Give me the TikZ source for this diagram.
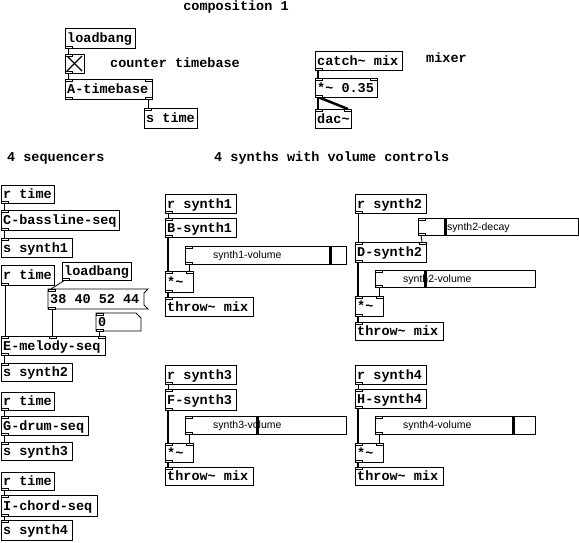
\documentclass[tikz,border=0pt]{standalone}
\usepackage{fontspec}
\newfontfamily\pdmono{Liberation Mono}
\newfontfamily\pdsans{Liberation Sans}

% object box: name, left, top, width, height, text
\newcommand\pdobj[6]{%
  \node[box, minimum width=#4pt, minimum height=#5pt] (#1) at (#2,#3) {};
  \node[txt] (#1-t) at ([xshift=2pt,yshift=-4.5pt]#1.west) {#6};}
% horizontal slider: name, left, top, width, height, knob x, label x, label
\newcommand\pdslider[8]{%
  \node[box, minimum width=#4pt, minimum height=#5pt] (#1) at (#2,#3) {};
  \node[lbl] (#1-l) at ([yshift=-3.5pt]#1.west -| #7,0) {#8};
  \fill (#6,#3) rectangle ++(3,#5);}
% inlets and outlets
\newcommand\pin[2]{\draw[port] ([xshift=#2pt]#1.north west) rectangle ++(7,2);}
\newcommand\pinr[1]{\draw[port] ([xshift=-7pt]#1.north east) rectangle ++(7,2);}
\newcommand\pout[2]{\draw[port] ([xshift=#2pt]#1.south west) rectangle ++(7,-2);}
\newcommand\poutr[1]{\draw[port] ([xshift=-7pt]#1.south east) rectangle ++(7,-2);}
\newcommand\tld{\textasciitilde}

\begin{document}
\begin{tikzpicture}[x=1pt,y=-1pt,
  box/.style={draw, line width=0.8pt, inner sep=0pt, outer sep=0pt, anchor=north west},
  txt/.style={inner sep=0pt, anchor=base west, font=\pdmono\bfseries\fontsize{13.5}{14}\selectfont},
  head/.style={inner sep=0pt, anchor=base west, font=\pdmono\bfseries\fontsize{13.5}{14}\selectfont},
  lbl/.style={inner sep=0pt, anchor=base west, font=\pdsans\fontsize{10.5}{12}\selectfont},
  ctl/.style={line width=0.8pt},
  sig/.style={line width=2.5pt},
  port/.style={draw, line width=0.6pt, fill=white}
]
\useasboundingbox (0,0) rectangle (579,542);

% headings and comments
\node[head, anchor=base] (title) at (236,10) {composition 1};
\node[head] (c-counter) at (110,67) {counter timebase};
\node[head] (c-mixer) at (426,62) {mixer};
\node[head] (c-seq) at (7,161) {4 sequencers};
\node[head] (c-synth) at (214,161) {4 synths with volume controls};

% timebase
\pdobj{lb1}{65}{28}{70}{20}{loadbang}
\node[box, minimum width=19pt, minimum height=19pt] (tgl) at (65,54) {};
\draw[line width=1.4pt] ([xshift=2pt,yshift=-2pt]tgl.north west) -- ([xshift=-2pt,yshift=2pt]tgl.south east);
\draw[line width=1.4pt] ([xshift=-2pt,yshift=-2pt]tgl.north east) -- ([xshift=2pt,yshift=2pt]tgl.south west);
\pdobj{tb}{65}{79}{87}{20}{A-timebase}
\pdobj{st}{144}{108}{53}{20}{s time}

\draw[ctl] ([xshift=3pt]lb1.south west) -- ([xshift=3pt]tgl.north west);
\draw[ctl] ([xshift=3pt]tgl.south west) -- ([xshift=3pt]tb.north west);
\draw[ctl] ([xshift=-4pt]tb.south east) -- ([xshift=4pt]st.north west);
\pout{lb1}{0}
\pin{tgl}{0}\pout{tgl}{0}
\pin{tb}{0}\pinr{tb}\pout{tb}{0}\poutr{tb}
\pin{st}{0}

% mixer
\pdobj{catch}{315}{51}{87}{19}{catch\tld{} mix}
\pdobj{mul}{315}{78}{62}{19}{*\tld{} 0.35}
\pdobj{dac}{315}{109}{36}{19}{dac\tld}
\draw[sig] ([xshift=3pt]catch.south west) -- ([xshift=3pt]mul.north west);
\draw[sig] ([xshift=3pt]mul.south west) -- ([xshift=3pt]dac.north west);
\draw[sig] ([xshift=3pt]mul.south west) -- ([xshift=-3pt]dac.north east);
\pout{catch}{0}
\pin{mul}{0}\pinr{mul}\pout{mul}{0}
\pin{dac}{0}\pinr{dac}

% sequencers
\pdobj{rt1}{1}{185}{53}{18}{r time}
\pdobj{cseq}{1}{210}{118}{20}{C-bassline-seq}
\pdobj{ss1}{1}{238}{71}{19}{s synth1}
\pdobj{rt2}{1}{265}{53}{20}{r time}
\pdobj{lb2}{62}{262}{69}{18}{loadbang}
\node[inner sep=0pt, outer sep=0pt, anchor=north west, minimum width=100pt, minimum height=20pt] (msg) at (48,289) {};
\draw[line width=0.8pt] (msg.north west) -- (msg.north east) -- ([xshift=-4pt,yshift=-4pt]msg.north east)
  -- ([xshift=-4pt,yshift=4pt]msg.south east) -- (msg.south east) -- (msg.south west) -- cycle;
\node[txt] (msg-t) at ([xshift=2pt,yshift=-4.5pt]msg.west) {38 40 52 44};
\node[inner sep=0pt, outer sep=0pt, anchor=north west, minimum width=45pt, minimum height=18pt] (num) at (96,313) {};
\draw[line width=0.8pt] (num.north west) -- ([xshift=-5pt]num.north east) -- ([yshift=-5pt]num.north east)
  -- (num.south east) -- (num.south west) -- cycle;
\node[txt] (num-t) at ([xshift=2pt,yshift=-4.5pt]num.west) {0};
\pdobj{eseq}{1}{336}{104}{19}{E-melody-seq}
\pdobj{ss2}{1}{363}{71}{18}{s synth2}
\pdobj{rt3}{1}{392}{53}{18}{r time}
\pdobj{gseq}{1}{416}{87}{19}{G-drum-seq}
\pdobj{ss3}{1}{442}{71}{18}{s synth3}
\pdobj{rt4}{1}{472}{53}{18}{r time}
\pdobj{iseq}{1}{495}{96}{21}{I-chord-seq}
\pdobj{ss4}{1}{520}{71}{20}{s synth4}

\draw[ctl] ([xshift=3pt]rt1.south west) -- ([xshift=3pt]cseq.north west);
\draw[ctl] ([xshift=3pt]cseq.south west) -- ([xshift=3pt]ss1.north west);
\draw[ctl] ([xshift=4pt]rt2.south west) -- ([xshift=4pt]eseq.north west);
\draw[ctl] ([xshift=3pt]lb2.south west) -- ([xshift=3pt]msg.north west);
\draw[ctl] ([xshift=4pt]msg.south west) -- ([xshift=51pt]eseq.north west);
\draw[ctl] ([xshift=3pt]num.south west) -- ([xshift=98pt]eseq.north west);
\draw[ctl] ([xshift=3pt]eseq.south west) -- ([xshift=3pt]ss2.north west);
\draw[ctl] ([xshift=3pt]rt3.south west) -- ([xshift=3pt]gseq.north west);
\draw[ctl] ([xshift=3pt]gseq.south west) -- ([xshift=3pt]ss3.north west);
\draw[ctl] ([xshift=3pt]rt4.south west) -- ([xshift=3pt]iseq.north west);
\draw[ctl] ([xshift=3pt]iseq.south west) -- ([xshift=3pt]ss4.north west);
\foreach \o in {rt1,cseq,rt2,lb2,msg,num,eseq,rt3,gseq,rt4,iseq}{\pout{\o}{0}}
\foreach \i in {cseq,ss1,msg,num,eseq,ss2,gseq,ss3,iseq,ss4}{\pin{\i}{0}}
\pin{eseq}{48}\pinr{eseq}

% synth 1
\pdobj{rs1}{165}{194}{71}{19}{r synth1}
\pdobj{b1}{165}{218}{71}{19}{B-synth1}
\pdslider{sl1}{185}{246}{161}{18}{329}{213}{synth1-volume}
\pdobj{m1}{165}{271}{28}{21}{*\tld}
\pdobj{th1}{165}{297}{88}{19}{throw\tld{} mix}

% synth 2
\pdobj{rs2}{355}{194}{71}{19}{r synth2}
\pdslider{sd2}{418}{218}{160}{17}{444}{447}{synth2-decay}
\pdobj{d2}{355}{242}{71}{20}{D-synth2}
\pdslider{sl2}{375}{270}{160}{17}{424}{403}{synth2-volume}
\pdobj{m2}{355}{296}{28}{20}{*\tld}
\pdobj{th2}{355}{322}{88}{18}{throw\tld{} mix}

% synth 3
\pdobj{rs3}{165}{365}{71}{19}{r synth3}
\pdobj{f3}{165}{389}{71}{21}{F-synth3}
\pdslider{sl3}{185}{416}{161}{18}{256}{213}{synth3-volume}
\pdobj{m3}{165}{443}{28}{19}{*\tld}
\pdobj{th3}{165}{467}{88}{18}{throw\tld{} mix}

% synth 4
\pdobj{rs4}{355}{365}{71}{19}{r synth4}
\pdobj{h4}{355}{389}{71}{19}{H-synth4}
\pdslider{sl4}{375}{416}{160}{18}{512}{403}{synth4-volume}
\pdobj{m4}{355}{443}{28}{19}{*\tld}
\pdobj{th4}{355}{467}{88}{18}{throw\tld{} mix}

% synth connections
\foreach \r/\s/\v/\m/\t in {rs1/b1/sl1/m1/th1, rs2/d2/sl2/m2/th2, rs3/f3/sl3/m3/th3, rs4/h4/sl4/m4/th4}{
  \draw[ctl] ([xshift=3pt]\r.south west) -- ([xshift=3pt]\s.north west);
  \draw[sig] ([xshift=3pt]\s.south west) -- ([xshift=3pt]\m.north west);
  \draw[ctl] ([xshift=4pt]\v.south west) -- ([xshift=-4pt]\m.north east);
  \draw[sig] ([xshift=3pt]\m.south west) -- ([xshift=3pt]\t.north west);
  \pout{\r}{0}\pin{\s}{0}\pout{\s}{0}
  \pin{\v}{0}\pout{\v}{0}
  \pin{\m}{0}\pinr{\m}\pout{\m}{0}
  \pin{\t}{0}
}
\draw[ctl] ([xshift=3pt]sd2.south west) -- ([xshift=-4pt]d2.north east);
\pin{sd2}{0}\pout{sd2}{0}\pinr{d2}
\end{tikzpicture}
\end{document}
